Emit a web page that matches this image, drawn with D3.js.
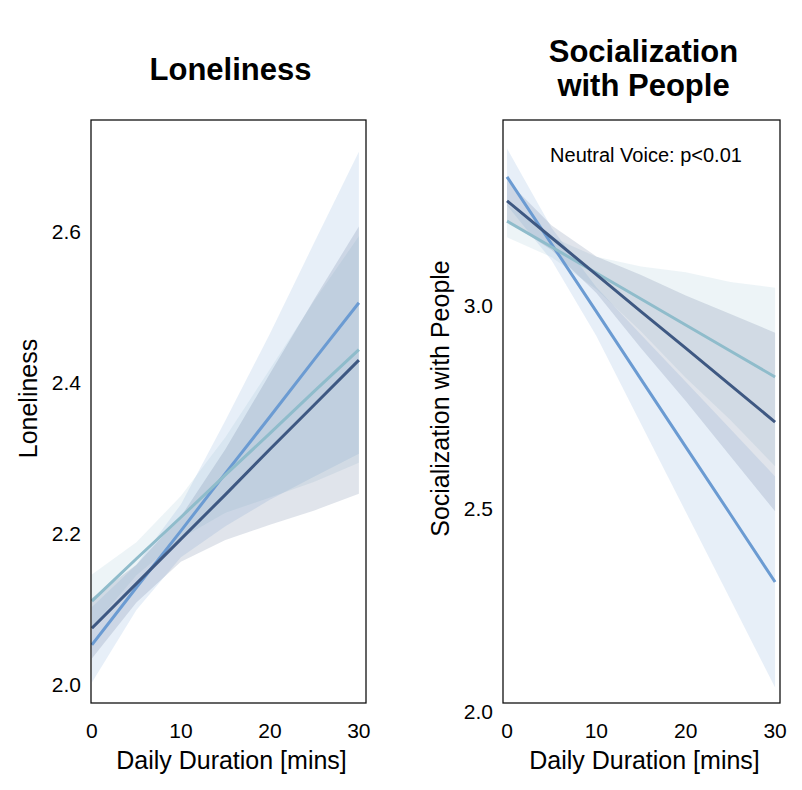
<!DOCTYPE html>
<html>
<head>
<meta charset="utf-8">
<script src="https://cdn.jsdelivr.net/npm/d3@7"></script>
<style>
  body { margin: 0; background: #fff; }
  text { font-family: "Liberation Sans", Arial, sans-serif; fill: #000; }
</style>
</head>
<body>
<svg id="chart"></svg>
<script>
const W = 802, H = 790;

// x positions (minutes) where lines and bands are read
const xs = [0, 5, 10, 15, 20, 25, 30];
const xTicks = [0, 10, 20, 30];

// Loneliness panel
const lonMid = [2.053, 2.129, 2.204, 2.280, 2.355, 2.431, 2.506];
const lonMidUp = [2.103, 2.159, 2.239, 2.350, 2.465, 2.586, 2.706];
const lonMidLo = [2.003, 2.099, 2.169, 2.210, 2.245, 2.276, 2.306];
const lonDark = [2.075, 2.134, 2.193, 2.252, 2.312, 2.371, 2.430];
const lonDarkUp = [2.115, 2.159, 2.223, 2.312, 2.412, 2.511, 2.607];
const lonDarkLo = [2.035, 2.109, 2.163, 2.192, 2.212, 2.231, 2.253];
const lonTeal = [2.111, 2.167, 2.222, 2.278, 2.333, 2.389, 2.444];
const lonTealUp = [2.146, 2.189, 2.250, 2.328, 2.418, 2.509, 2.594];
const lonTealLo = [2.076, 2.145, 2.194, 2.228, 2.248, 2.269, 2.294];
const lonTicks = [2.0, 2.2, 2.4, 2.6];

// Socialization panel
const socMid = [3.318, 3.152, 2.986, 2.819, 2.653, 2.487, 2.320];
const socMidUp = [3.388, 3.192, 3.046, 2.929, 2.813, 2.697, 2.580];
const socMidLo = [3.248, 3.112, 2.926, 2.709, 2.493, 2.277, 2.060];
const socDark = [3.259, 3.168, 3.077, 2.986, 2.896, 2.805, 2.714];
const socDarkUp = [3.309, 3.198, 3.122, 3.076, 3.026, 2.980, 2.934];
const socDarkLo = [3.209, 3.138, 3.032, 2.896, 2.766, 2.630, 2.494];
const socTeal = [3.209, 3.145, 3.081, 3.017, 2.953, 2.889, 2.825];
const socTealUp = [3.249, 3.170, 3.121, 3.097, 3.083, 3.059, 3.045];
const socTealLo = [3.169, 3.120, 3.041, 2.937, 2.823, 2.719, 2.605];
const socTicks = [2.0, 2.5, 3.0];

const colMid = "#6b9bd2", colDark = "#3e5882", colTeal = "#8fbccb";

const svg = d3.select("#chart").attr("width", W).attr("height", H);

function panel(cfg) {
  const g = svg.append("g");
  const x = d3.scaleLinear().domain(cfg.xDom).range([cfg.left, cfg.right]);
  const y = d3.scaleLinear().domain(cfg.yDom).range([cfg.bottom, cfg.top]);

  const clipId = "clip" + cfg.left;
  g.append("clipPath").attr("id", clipId).append("rect")
    .attr("x", cfg.left).attr("y", cfg.top)
    .attr("width", cfg.right - cfg.left).attr("height", cfg.bottom - cfg.top);
  const plot = g.append("g").attr("clip-path", "url(#" + clipId + ")");

  const area = d3.area().x((d, i) => x(xs[i])).y0(d => y(d[0])).y1(d => y(d[1]));
  const line = d3.line().x((d, i) => x(xs[i])).y(d => y(d));

  cfg.series.forEach(s => {
    plot.append("path")
      .datum(s.lo.map((v, i) => [v, s.up[i]]))
      .attr("d", area)
      .attr("fill", s.color).attr("fill-opacity", s.op);
  });
  cfg.series.forEach(s => {
    plot.append("path").datum(s.mid).attr("d", line)
      .attr("fill", "none").attr("stroke", s.color).attr("stroke-width", 3);
  });

  g.append("rect")
    .attr("x", cfg.left).attr("y", cfg.top)
    .attr("width", cfg.right - cfg.left).attr("height", cfg.bottom - cfg.top)
    .attr("fill", "none").attr("stroke", "#111").attr("stroke-width", 1.3);

  // y tick labels
  g.selectAll(".yt").data(cfg.yTicks).enter().append("text")
    .attr("x", cfg.left - 10).attr("y", d => y(d)).attr("dy", "0.35em")
    .attr("text-anchor", "end").style("font-size", "21px")
    .text(d => d3.format(".1f")(d));

  // x tick labels
  g.selectAll(".xt").data(xTicks).enter().append("text")
    .attr("x", d => x(d)).attr("y", 738)
    .attr("text-anchor", "middle").style("font-size", "21px")
    .text(d => d);

  g.append("text").attr("x", (cfg.left + cfg.right) / 2 + 3).attr("y", 769)
    .attr("text-anchor", "middle").style("font-size", "25px")
    .text("Daily Duration [mins]");

  g.append("text")
    .attr("transform", "translate(" + cfg.yLabelX + "," + ((cfg.top + cfg.bottom) / 2 - 13) + ") rotate(-90)")
    .attr("text-anchor", "middle").style("font-size", "25px")
    .text(cfg.yLabel);

  const t = g.append("text").attr("text-anchor", "middle")
    .style("font-size", "31px").style("font-weight", "bold");
  cfg.title.forEach((line, i) => {
    t.append("tspan").attr("x", (cfg.left + cfg.right) / 2 + 2)
      .attr("y", cfg.titleY + i * 34).text(line);
  });
  return { g, x, y };
}

panel({
  left: 91, right: 366, top: 120, bottom: 703,
  xDom: [-0.1, 30.8], yDom: [1.976, 2.748], yTicks: lonTicks,
  yLabel: "Loneliness", yLabelX: 37,
  title: ["Loneliness"], titleY: 80,
  series: [
    { mid: lonMid, up: lonMidUp, lo: lonMidLo, color: colMid, op: 0.16 },
    { mid: lonTeal, up: lonTealUp, lo: lonTealLo, color: colTeal, op: 0.16 },
    { mid: lonDark, up: lonDarkUp, lo: lonDarkLo, color: colDark, op: 0.16 }
  ]
});

const right = panel({
  left: 503, right: 780, top: 120, bottom: 703,
  xDom: [-0.45, 30.55], yDom: [2.022, 3.458], yTicks: socTicks,
  yLabel: "Socialization with People", yLabelX: 449,
  title: ["Socialization", "with People"], titleY: 62,
  series: [
    { mid: socMid, up: socMidUp, lo: socMidLo, color: colMid, op: 0.16 },
    { mid: socTeal, up: socTealUp, lo: socTealLo, color: colTeal, op: 0.16 },
    { mid: socDark, up: socDarkUp, lo: socDarkLo, color: colDark, op: 0.16 }
  ]
});

right.g.append("text").attr("x", 646).attr("y", 162)
  .attr("text-anchor", "middle").style("font-size", "20px")
  .text("Neutral Voice: p<0.01");
</script>
</body>
</html>
